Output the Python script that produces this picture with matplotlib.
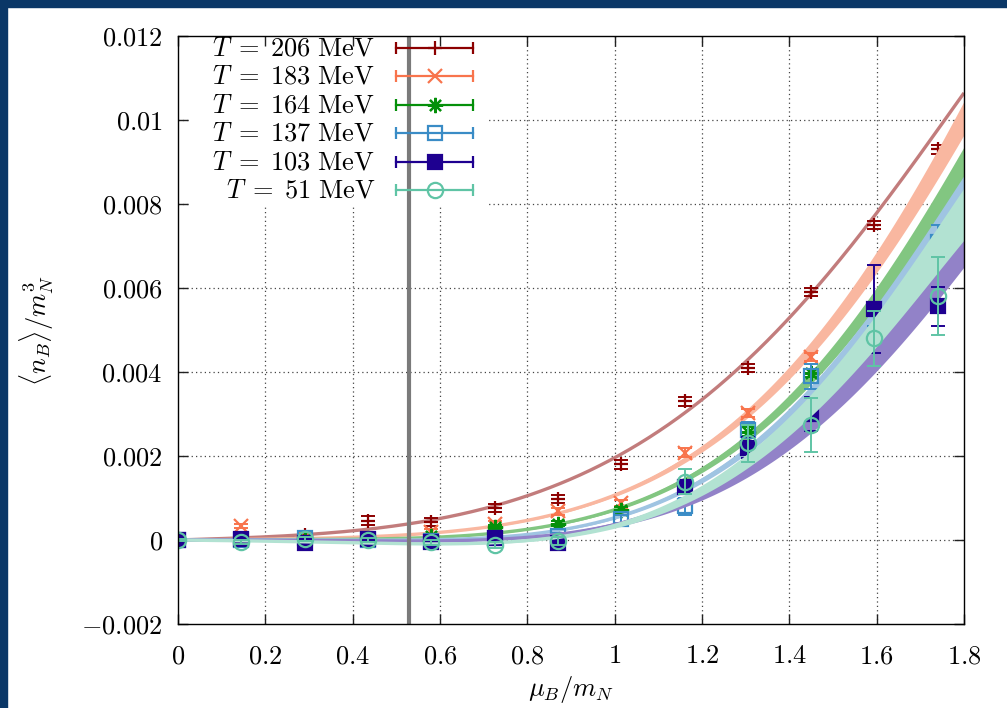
import numpy as np
import matplotlib
matplotlib.use("Agg")
import matplotlib.pyplot as plt
from matplotlib.patches import Rectangle

plt.rcParams["mathtext.fontset"] = "cm"
plt.rcParams["font.family"] = "DejaVu Serif"

# --- data -------------------------------------------------------------------
temps = [206, 183, 164, 137, 103, 51]                      # MeV
legend_labels = [rf"$T\;=\;{t}\ \mathrm{{MeV}}$" for t in temps]

mu_pts = [0.0, 0.145, 0.29, 0.435, 0.58, 0.725, 0.87, 1.015, 1.16, 1.305,
          1.45, 1.595, 1.74]
nan = np.nan

nb_206 = [0.0, 0.00005, 0.00012, 0.00046, 0.00043, 0.00076, 0.00098, 0.0018,
          0.0033, 0.0041, 0.0059, 0.0075, 0.0093]
err_206 = [0.00004, 0.00005, 0.00006, 0.0001, 0.0001, 0.0001, 0.0001, 0.0001,
           0.0001, 0.0001, 0.0001, 0.0001, 0.0001]

nb_183 = [0.0, 0.00033, 0.00005, 0.00003, 0.0002, 0.00038, 0.00068, 0.00088,
          0.00208, 0.00303, 0.00436, nan, nan]
err_183 = [0.00003, 0.00005, 0.00005, 0.00005, 0.00006, 0.00007, 0.00008,
           0.00008, 0.0001, 0.0001, 0.0001, nan, nan]

nb_164 = [0.0, 0.00002, 0.00003, 0.00004, 0.0001, 0.0003, 0.00039, 0.00071,
          0.0013, 0.00258, 0.00397, nan, nan]
err_164 = [0.00003, 0.00004, 0.00004, 0.00005, 0.00005, 0.00006, 0.00006,
           0.00007, 0.0001, 0.0001, 0.0001, nan, nan]

nb_137 = [0.0, 0.0, 0.00005, 0.0, -0.00002, 0.00005, 0.0001, 0.0005, 0.0008,
          0.00262, 0.0039, 0.00482, 0.0071]
err_137 = [0.00003, 0.00004, 0.00005, 0.00005, 0.00005, 0.00005, 0.00006,
           0.0001, 0.0002, 0.0002, 0.0003, 0.00028, 0.0004]

nb_103 = [0.0, 0.00002, -0.00007, 0.00002, -0.00005, 0.00005, -0.00008, nan,
          0.00127, 0.0022, 0.0030, 0.0055, 0.00556]
err_103 = [0.00003, 0.00005, 0.00005, 0.00005, 0.00005, 0.00006, 0.00006, nan,
           0.0001, 0.00025, 0.0004, 0.00105, 0.00046]

nb_51 = [0.0, -0.00005, 0.00002, 0.0, -0.00005, -0.00012, -0.00002, nan,
         0.00139, 0.0023, 0.00274, 0.0048, 0.0058]
err_51 = [0.00003, 0.00005, 0.00005, 0.00005, 0.00006, 0.00008, 0.0001, nan,
          0.0003, 0.00045, 0.00065, 0.00065, 0.00093]

nb_all = [nb_206, nb_183, nb_164, nb_137, nb_103, nb_51]
err_all = [err_206, err_183, err_164, err_137, err_103, err_51]

# fit bands: centre values at these mu nodes, half-width at mu = 1.8
fit_nodes = [0.3, 0.45, 0.6, 0.8, 1.0, 1.2, 1.333, 1.6, 1.8]
fit_206 = [0.0001, 0.00026, 0.00052, 0.00107, 0.00202, 0.00325, 0.0046, 0.0078, 0.01064]
fit_183 = [0.00004, 0.0001, 0.00017, 0.00045, 0.00111, 0.0021, 0.00335, 0.0066, 0.01005]
fit_164 = [0.00002, 0.00004, 0.00006, 0.00024, 0.00071, 0.00173, 0.00265, 0.0058, 0.0090]
fit_137 = [0.0, 0.0, 0.00002, 0.00012, 0.00052, 0.00145, 0.00238, 0.0054, 0.00835]
fit_103 = [-0.00002, -0.00003, 0.0, 0.00008, 0.0003, 0.00114, 0.00183, 0.0044, 0.0071]
fit_51 = [-0.00003, -0.00007, -0.0001, -0.00002, 0.00031, 0.00126, 0.00207, 0.0050, 0.00776]
fit_all = [fit_206, fit_183, fit_164, fit_137, fit_103, fit_51]
band_halfwidth = [0.0, 0.0004, 0.00036, 0.00033, 0.0006, 0.00062]

mu_line = 0.529

x_ticks = [0, 0.2, 0.4, 0.6, 0.8, 1.0, 1.2, 1.4, 1.6, 1.8]
x_ticklabels = ["0", "0.2", "0.4", "0.6", "0.8", "1", "1.2", "1.4", "1.6", "1.8"]
y_ticks = [-0.002, 0, 0.002, 0.004, 0.006, 0.008, 0.01, 0.012]
y_ticklabels = ["-0.002", "0", "0.002", "0.004", "0.006", "0.008", "0.01", "0.012"]

# --- styles -------------------------------------------------------------------
point_colors = ["#8c0000", "#f8744c", "#05900a", "#3a8cc6", "#1e0090", "#5fc4a5"]
band_colors = ["#c27c7c", "#f9b7a0", "#82c681", "#9fc4e2", "#9282c8", "#b2e2d2"]
markers = ["+", "x", (8, 2, 0), "s", "s", "o"]
marker_fill = [False, False, False, False, True, False]
marker_size = [10, 10, 11, 10, 10, 11]

W, H = 1007, 708
fig = plt.figure(figsize=(W / 100, H / 100), dpi=100)
frame_col = "#0a3767"
fig.patches.append(Rectangle((0, 1 - 7 / H), 1, 7 / H, transform=fig.transFigure,
                             color=frame_col, zorder=10))
fig.patches.append(Rectangle((0, 0), 7 / W, 1, transform=fig.transFigure,
                             color=frame_col, zorder=10))

ax = fig.add_axes([178 / W, 1 - 624 / H, 786 / W, 588 / H])
ax.set_xlim(0, 1.8)
ax.set_ylim(-0.002, 0.012)

# dotted grid underneath everything
for xv in x_ticks[1:-1]:
    ax.axvline(xv, color="#444444", lw=0.9, ls=(0, (1, 2.5)), zorder=0.5)
for yv in y_ticks[1:-1]:
    ax.axhline(yv, color="#444444", lw=0.9, ls=(0, (1, 2.5)), zorder=0.5)

# key box hides the grid behind it
ax.add_patch(Rectangle(((190 - 178) / 786, (624 - 207) / 588), (488 - 190) / 786,
                       (207 - 36) / 588, transform=ax.transAxes, color="white",
                       lw=0, zorder=1))

# odd polynomial fit bands, each temperature drawn with its points before the next
mu = np.linspace(0, 1.8, 400)
nodes = np.asarray(fit_nodes)
basis_nodes = np.vstack([nodes, nodes**3, nodes**5, nodes**7]).T
basis = np.vstack([mu, mu**3, mu**5, mu**7]).T
for i, (vals, hw) in enumerate(zip(fit_all, band_halfwidth)):
    z = 2 + 0.1 * i
    coef, *_ = np.linalg.lstsq(basis_nodes, np.asarray(vals), rcond=None)
    centre = basis @ coef
    width = hw * (mu / 1.8) ** 4
    if hw > 0:
        ax.fill_between(mu, centre - width, centre + width, color=band_colors[i],
                        lw=0, zorder=z)
    ax.plot(mu, centre, color=band_colors[i], lw=2.4, zorder=z,
            solid_capstyle="butt")

    pc = point_colors[i]
    ax.errorbar(mu_pts, nb_all[i], yerr=err_all[i], fmt="none", ecolor=pc,
                elinewidth=1.4, capsize=5, capthick=1.4, zorder=z + 0.03)
    ax.plot(mu_pts, nb_all[i], ls="none", marker=markers[i], ms=marker_size[i],
            mec=pc, mfc=pc if marker_fill[i] else "none", mew=1.6,
            zorder=z + 0.05)

ax.axvline(mu_line, color="#7a7a7a", lw=3.0, zorder=2.8)

# key
tx = (375 - 178) / 786
x1, x2 = (396 - 178) / 786, (473 - 178) / 786
for i, lab in enumerate(legend_labels):
    ya = (624 - (48 + 28.4 * i)) / 588
    pc = point_colors[i]
    ax.text(tx, ya, lab, transform=ax.transAxes, ha="right", va="center",
            fontsize=19, zorder=5)
    ax.plot([x1, x2], [ya, ya], transform=ax.transAxes, color=pc, lw=1.6,
            zorder=5)
    ax.plot([x1, x2], [ya, ya], transform=ax.transAxes, ls="none", marker="|",
            ms=9, mew=1.6, color=pc, zorder=5)
    ax.plot([(x1 + x2) / 2], [ya], transform=ax.transAxes, ls="none",
            marker=markers[i], ms=marker_size[i], mec=pc,
            mfc=pc if marker_fill[i] else "none", mew=1.6, zorder=5.1)

ax.set_xticks(x_ticks)
ax.set_xticklabels([f"${s}$" for s in x_ticklabels])
ax.set_yticks(y_ticks)
ax.set_yticklabels([f"${s}$" for s in y_ticklabels])
ax.tick_params(direction="in", length=7, width=1.0, top=True, right=True,
               labelsize=19, color="#222222")
ax.tick_params(axis="y", pad=11)
ax.tick_params(axis="x", pad=14)
for sp in ax.spines.values():
    sp.set_linewidth(1.0)
    sp.set_zorder(6)

ax.set_xlabel(r"$\mu_B/m_N$", fontsize=19)
ax.set_ylabel(r"$\langle n_B\rangle/m_N^3$", fontsize=19)
ax.xaxis.set_label_coords(0.5, -0.085)
ax.yaxis.set_label_coords(-0.155, 0.5)

fig.savefig("out.png", dpi=100)
